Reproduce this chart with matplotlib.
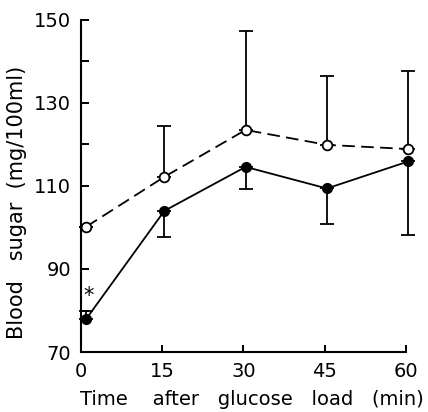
import matplotlib
matplotlib.use("Agg")
import matplotlib.pyplot as plt
from matplotlib.ticker import MultipleLocator

# time points (min), first point drawn just off the axis
t = [1, 15.4, 30.4, 45.4, 60.4]

# filled circles, solid line (error bars downward, first one upward)
filled = [78, 104, 114.6, 109.4, 115.9]
filled_lo = [0, 6.3, 5.4, 8.6, 17.7]
filled_hi = [1.9, 0, 0, 0, 0]

# open circles, dashed line (error bars upward)
opened = [100.2, 112.2, 123.5, 119.9, 118.9]
opened_err = [0, 12.3, 23.8, 16.6, 18.8]

xticks = [0, 15, 30, 45, 60]
yticks = [70, 90, 110, 130, 150]

plt.rcParams['font.family'] = ['DejaVu Sans']

fig = plt.figure(figsize=(4.28, 4.12), dpi=100)
ax = fig.add_axes([0.189, 0.1456, 0.7596, 0.806])

# error bars first, so markers sit on top
ax.errorbar(t, filled, yerr=[filled_lo, filled_hi], fmt='none',
            ecolor='black', elinewidth=1.3, capsize=5, capthick=1.3, clip_on=False)
ax.errorbar(t, opened, yerr=[[0]*len(t), opened_err], fmt='none',
            ecolor='black', elinewidth=1.3, capsize=5, capthick=1.3, clip_on=False)

ax.plot(t, opened, color='black', lw=1.3, dashes=(7, 3.5), marker='o',
        markersize=7, markerfacecolor='white', markeredgecolor='black',
        markeredgewidth=1.3, clip_on=False, zorder=3)
ax.plot(t, filled, color='black', lw=1.3, marker='o', markersize=7,
        markerfacecolor='black', clip_on=False, zorder=3)

ax.text(1.5, 81, '*', fontsize=15, ha='center', va='bottom')

ax.set_xlim(0, 60)
ax.set_ylim(70, 150)
ax.set_xticks(xticks)
ax.set_yticks(yticks)
ax.yaxis.set_minor_locator(MultipleLocator(10))

for s in ['top', 'right']:
    ax.spines[s].set_visible(False)
for s in ['left', 'bottom']:
    ax.spines[s].set_linewidth(1.5)

ax.tick_params(axis='both', which='both', direction='in', width=1.4,
               labelsize=14)
ax.tick_params(axis='y', which='both', length=6, pad=7)
ax.tick_params(axis='x', which='major', length=5, pad=7)

ax.set_xlabel('Time    after   glucose   load   (min)', fontsize=14, labelpad=7)
ax.xaxis.label.set_x(0.525)
ax.set_ylabel('Blood   sugar  (mg/100ml)', fontsize=15, labelpad=5)
ax.yaxis.label.set_y(0.45)

fig.savefig('out.png', dpi=100)
